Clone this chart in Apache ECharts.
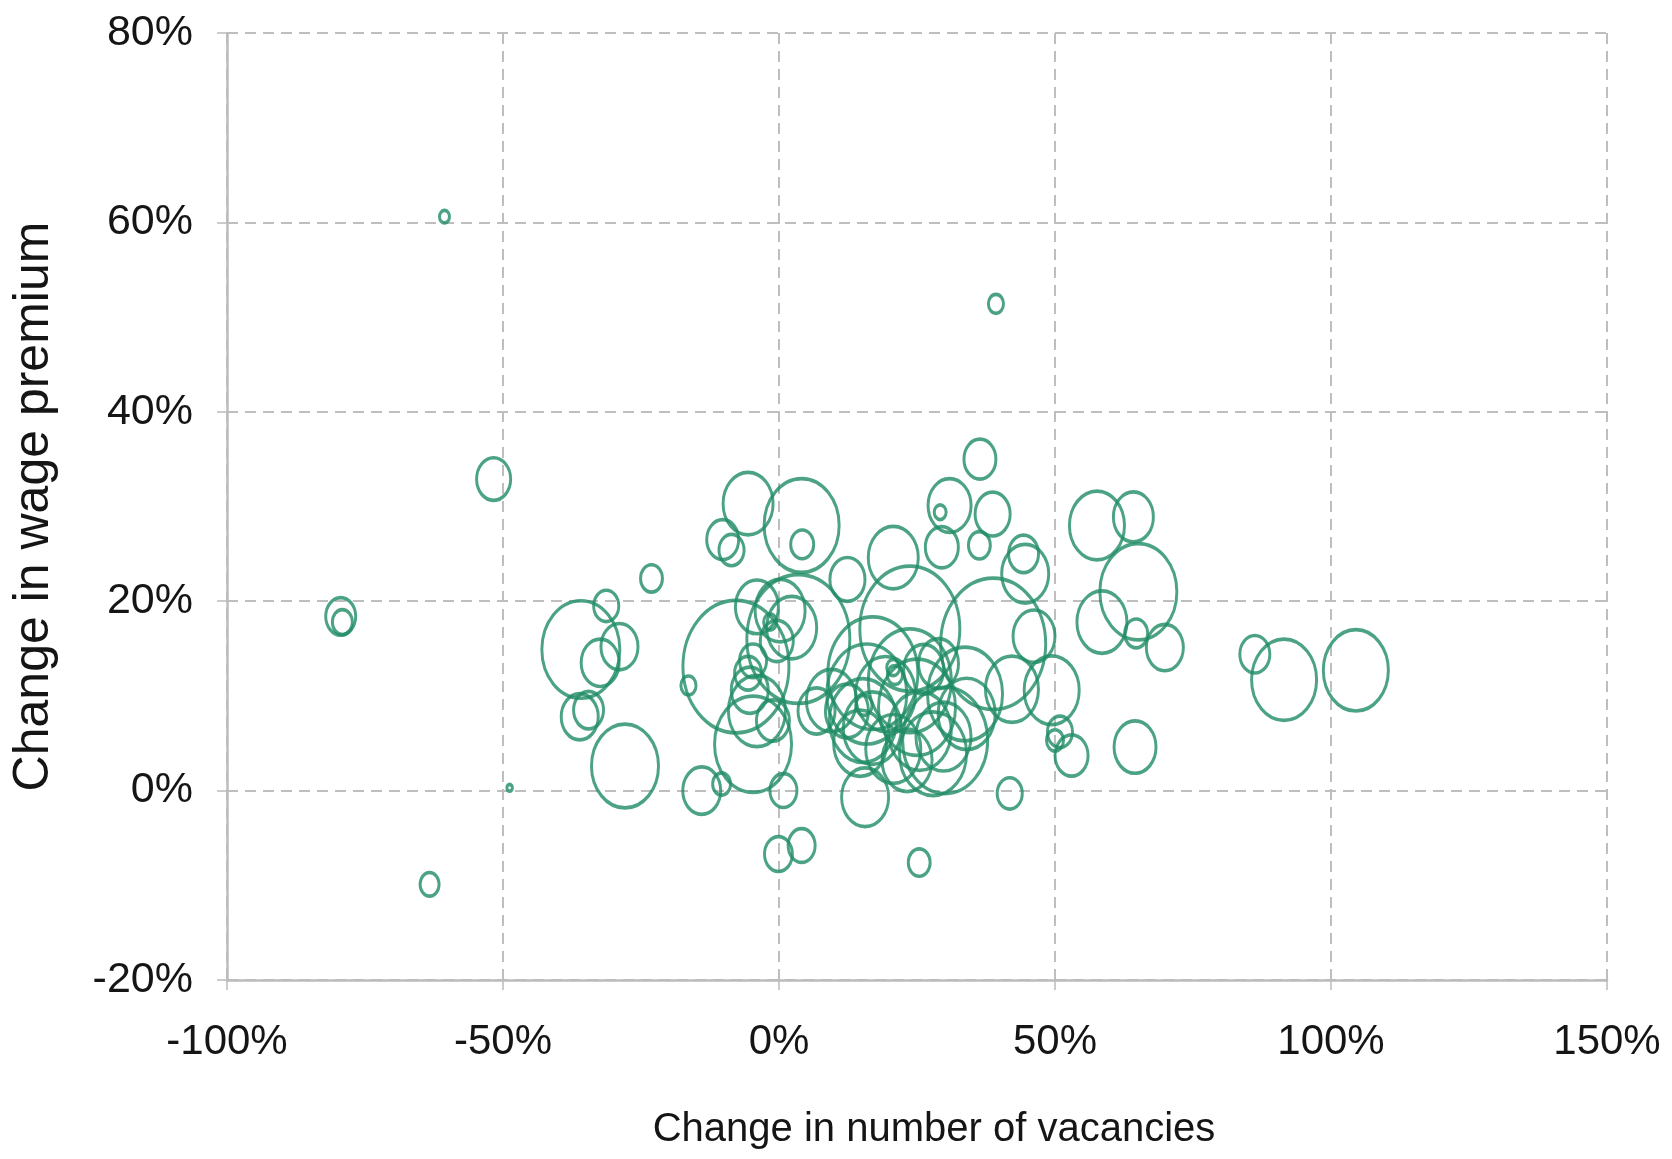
<!DOCTYPE html>
<html>
<head>
<meta charset="utf-8">
<title>Change in wage premium vs change in number of vacancies</title>
<script src="https://cdn.jsdelivr.net/npm/echarts@6/dist/echarts.min.js"></script>
<style>
  html, body { margin: 0; padding: 0; background: #ffffff; }
  #chart { width: 1672px; height: 1159px; }
</style>
</head>
<body>
<div id="chart"></div>
<script>
// Change in number of vacancies (%), one entry per occupation
const vacancyChange = [
  -60.6, 39.3, -51.7, -79.4, -79.1, -48.8, -63.3, -23.1,
  -35.9, -31.3, -32.4, -28.9, -36.1, -34.5, -27.9, -16.4,
  -14.0, -10.4, 0.8, -0.1, 4.1, 15.6, 25.4, 41.8,
  -5.6, 4.1, 4.2, -10.2, -8.6, 12.4, 20.7, 36.4, 30.9, 29.2, 38.7, 29.5, 36.3, 44.3, 44.6,
  57.6, 64.2, 65.1, 58.5, 64.7, 69.9, 46.2, 49.4, 50.9, 50.0, 53.0, 64.5, 86.2, 91.5, 104.5, 38.8, 42.2,
  -7.8, 3.5, -4.0, 0.2, 2.3, -0.4, -1.6, -4.7, -5.6, -5.3, -4.7, -4.0, -1.1, 6.8,
  23.7, 17.0, 15.9, 15.2, 14.7, 12.3, 23.7, 25.0, 25.5, 27.9, 23.2, 20.7, 30.1, 34.0,
  9.5, 28.9, 19.3, 26.2, 33.7, 16.9, 20.7, 29.8, 15.4, 21.0
];

// Change in wage premium (%)
const wagePremiumChange = [
  60.6, 51.4, 32.9, 18.4, 17.8, 0.3, -9.9, 22.4,
  14.9, 19.5, 13.5, 15.2, 7.8, 8.5, 2.6, 11.1,
  0.0, 0.7, 0.0, -6.7, -5.8, -0.7, -7.6, -0.3,
  30.3, 28.0, 26.0, 26.5, 25.4, 22.3, 24.6, 35.0, 30.1, 29.4, 29.2, 25.7, 25.9, 25.0, 22.9,
  28.0, 28.9, 21.0, 17.8, 16.6, 15.1, 16.3, 10.6, 6.2, 5.3, 3.7, 4.6, 14.4, 11.7, 12.7, 15.5, 10.7,
  13.1, 16.0, 19.4, 19.0, 17.2, 15.8, 17.8, 13.7, 12.4, 10.6, 4.9, 8.4, 7.4, 8.4,
  17.1, 12.4, 10.2, 7.4, 5.0, 8.4, 11.6, 8.8, 6.3, 3.9, 3.2, 13.0, 5.3, 8.1,
  9.5, 13.4, 10.2, 12.8, 10.2, 6.6, 4.4, 5.7, 9.0, 12.2
];

// Bubble weight (relative number of vacancies), drawn as bubble area
const vacancyWeight = [
  1.0, 2.3, 11.6, 9.0, 4.0, 0.3, 3.6, 4.8,
  60.8, 6.3, 14.4, 13.7, 13.7, 9.0, 44.9, 2.3,
  14.4, 3.2, 7.3, 7.8, 7.3, 22.1, 4.8, 6.3,
  25.0, 56.3, 5.3, 10.2, 6.3, 12.3, 25.0, 10.2, 18.5, 1.4, 12.3, 10.9, 4.8, 9.0, 22.1,
  30.3, 16.0, 59.3, 25.0, 5.3, 13.7, 17.6, 30.3, 6.3, 2.9, 10.9, 17.6, 9.0, 42.3, 42.3, 110.3, 28.1,
  112.4, 106.1, 18.5, 25.0, 25.0, 10.9, 1.7, 7.3, 7.3, 13.7, 59.3, 32.5, 10.9, 13.7,
  100.0, 81.0, 64.0, 44.9, 28.1, 18.5, 68.9, 59.3, 39.7, 44.9, 25.0, 1.7, 72.3, 32.5,
  25.0, 16.0, 36.0, 16.0, 56.3, 33.6, 30.3, 30.3, 2.6, 2.3
];

// Axis ranges and tick spacing (%)
const xRange = { min: -100, max: 150, step: 50 };
const yRange = { min: -20, max: 80, step: 20 };

const xTitle = 'Change in number of vacancies';
const yTitle = 'Change in wage premium';

const points = vacancyChange.map((x, i) => [x, wagePremiumChange[i], vacancyWeight[i]]);

const chart = echarts.init(document.getElementById('chart'), null, { renderer: 'canvas' });

const gridGrey = '#bebebe';
const axisGrey = '#bcbcbc';
const textColor = '#151515';
const labelFont = "'Liberation Sans', Arial, sans-serif";
const pct = v => v + '%';

chart.setOption({
  backgroundColor: '#ffffff',
  animation: false,
  grid: { left: 227, right: 65, top: 33, bottom: 179, containLabel: false },
  xAxis: {
    type: 'value',
    min: xRange.min, max: xRange.max, interval: xRange.step,
    name: xTitle,
    nameLocation: 'middle',
    nameGap: 130,
    nameTextStyle: { fontFamily: labelFont, fontSize: 40, color: textColor, padding: [0, 0, 0, 34] },
    axisLine: { show: true, onZero: false, lineStyle: { color: axisGrey, width: 2.5 } },
    axisTick: { show: true, length: 10, lineStyle: { color: axisGrey, width: 1.5 } },
    axisLabel: { formatter: pct, fontFamily: labelFont, fontSize: 42, color: textColor, margin: 41 },
    splitLine: { show: true, lineStyle: { color: gridGrey, width: 2, type: [11, 7] } }
  },
  yAxis: {
    type: 'value',
    min: yRange.min, max: yRange.max, interval: yRange.step,
    name: yTitle,
    nameLocation: 'middle',
    nameGap: 168,
    nameRotate: 90,
    nameTextStyle: { fontFamily: labelFont, fontSize: 50, color: textColor },
    axisLine: { show: true, onZero: false, lineStyle: { color: axisGrey, width: 2.5 } },
    axisTick: { show: true, length: 10, lineStyle: { color: axisGrey, width: 1.5 } },
    axisLabel: { formatter: pct, fontFamily: labelFont, fontSize: 43, color: textColor, margin: 34 },
    splitLine: { show: true, lineStyle: { color: gridGrey, width: 2, type: [11, 7] } }
  },
  series: [{
    type: 'scatter',
    data: points,
    symbol: 'circle',
    // bubble area follows the weight; the figure is slightly stretched vertically
    symbolSize: d => {
      const w = 10 * Math.sqrt(d[2]);
      return [w, w * 1.25];
    },
    itemStyle: { color: 'rgba(255,255,255,0)', borderColor: '#1f8c65', borderWidth: 3.3 },
    emphasis: { disabled: true }
  }]
});
</script>
</body>
</html>
